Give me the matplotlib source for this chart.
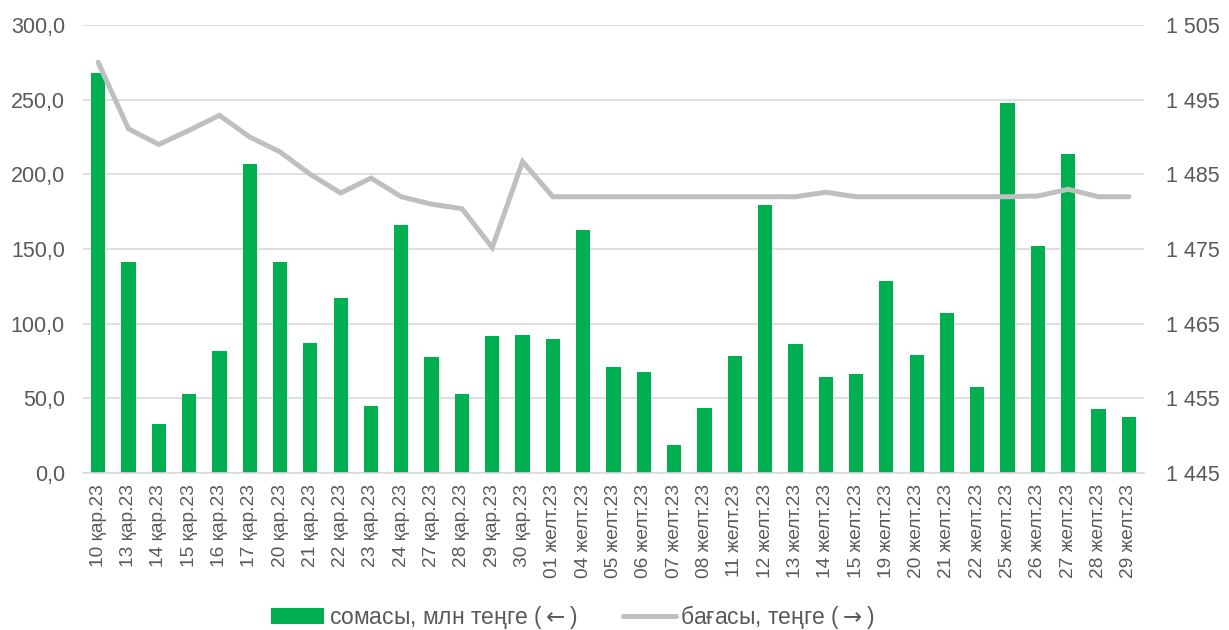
import matplotlib
matplotlib.use("Agg")
import matplotlib.pyplot as plt
from matplotlib.ticker import FuncFormatter, FixedLocator

plt.rcParams['font.family'] = ['Liberation Sans', 'DejaVu Sans']
plt.rcParams['mathtext.fontset'] = 'dejavusans'

dates = ["10 қар.23", "13 қар.23", "14 қар.23", "15 қар.23", "16 қар.23", "17 қар.23",
         "20 қар.23", "21 қар.23", "22 қар.23", "23 қар.23", "24 қар.23", "27 қар.23",
         "28 қар.23", "29 қар.23", "30 қар.23", "01 желт.23", "04 желт.23", "05 желт.23",
         "06 желт.23", "07 желт.23", "08 желт.23", "11 желт.23", "12 желт.23", "13 желт.23",
         "14 желт.23", "15 желт.23", "19 желт.23", "20 желт.23", "21 желт.23", "22 желт.23",
         "25 желт.23", "26 желт.23", "27 желт.23", "28 желт.23", "29 желт.23"]

volume = [268.0, 141.0, 33.0, 53.0, 82.0, 207.0, 141.0, 87.0, 117.0, 45.0, 166.0, 78.0,
          53.0, 92.0, 92.5, 89.5, 162.5, 71.0, 67.5, 19.0, 43.5, 78.5, 179.5, 86.5,
          64.5, 66.5, 128.5, 79.0, 107.0, 57.5, 247.5, 152.0, 213.5, 43.0, 37.5]

price = [1500.0, 1491.1, 1489.0, 1490.9, 1492.9, 1490.0, 1488.0, 1485.0, 1482.5, 1484.5,
         1482.0, 1481.0, 1480.4, 1475.2, 1486.7, 1482.0, 1482.0, 1482.0, 1482.0, 1482.0,
         1482.0, 1482.0, 1482.0, 1482.0, 1482.6, 1482.0, 1482.0, 1482.0, 1482.0, 1482.0,
         1482.0, 1482.1, 1483.0, 1482.0, 1482.0]

left_ticks = [0, 50, 100, 150, 200, 250, 300]
right_ticks = [1445, 1455, 1465, 1475, 1485, 1495, 1505]

GREEN = "#00B050"
GRAY_LINE = "#BFBFBF"
GRID = "#D9D9D9"
TXT = "#595959"

fig = plt.figure(figsize=(12.29, 6.30), dpi=100)
ax = fig.add_axes([83 / 1229, 1 - 473 / 630, (1144 - 83) / 1229, (473 - 25) / 630])
ax2 = ax.twinx()

x = list(range(len(dates)))
bars = ax.bar(x, volume, width=0.47, color=GREEN, zorder=2)
ax.set_ylim(0, 300)
ax.set_xlim(-0.5, len(dates) - 0.5)
ax.yaxis.set_major_locator(FixedLocator(left_ticks))
ax.yaxis.set_major_formatter(FuncFormatter(lambda v, p: f"{v:.1f}".replace(".", ",")))
ax.grid(axis='y', color=GRID, linewidth=1.2, zorder=0)
ax.set_axisbelow(True)
ax.set_xticks(x)
ax.set_xticklabels(dates, rotation=90, fontsize=13.8, color=TXT)
ax.tick_params(axis='x', length=0, pad=8)
ax.tick_params(axis='y', length=0, labelsize=15.5, labelcolor=TXT, pad=13)

line, = ax2.plot(x, price, color=GRAY_LINE, linewidth=3.6, solid_joinstyle='miter',
                 solid_capstyle='round', zorder=3)
ax2.set_ylim(1445, 1505)
ax2.yaxis.set_major_locator(FixedLocator(right_ticks))
ax2.yaxis.set_major_formatter(FuncFormatter(lambda v, p: f"{int(v):,}".replace(",", " ")))
ax2.tick_params(axis='y', length=0, labelsize=15.5, labelcolor=TXT, pad=16)

for a in (ax, ax2):
    for s in ('top', 'right', 'left'):
        a.spines[s].set_visible(False)
ax2.spines['bottom'].set_visible(False)
ax.spines['bottom'].set_color(GRID)
ax.spines['bottom'].set_linewidth(1.2)

leg = fig.legend(handles=[bars, line],
                 labels=["сомасы, млн теңге ($\\leftarrow$)", "бағасы, теңге ($\\rightarrow$)"],
                 loc='center', bbox_to_anchor=(573 / 1229, 1 - 617 / 630), ncol=2,
                 frameon=False, fontsize=16.5, handlelength=2.3, handleheight=0.7,
                 handletextpad=0.2, columnspacing=2.0, labelcolor=TXT)
for h in leg.get_lines():
    h.set_solid_capstyle('round')

fig.savefig("out.png", dpi=100)
